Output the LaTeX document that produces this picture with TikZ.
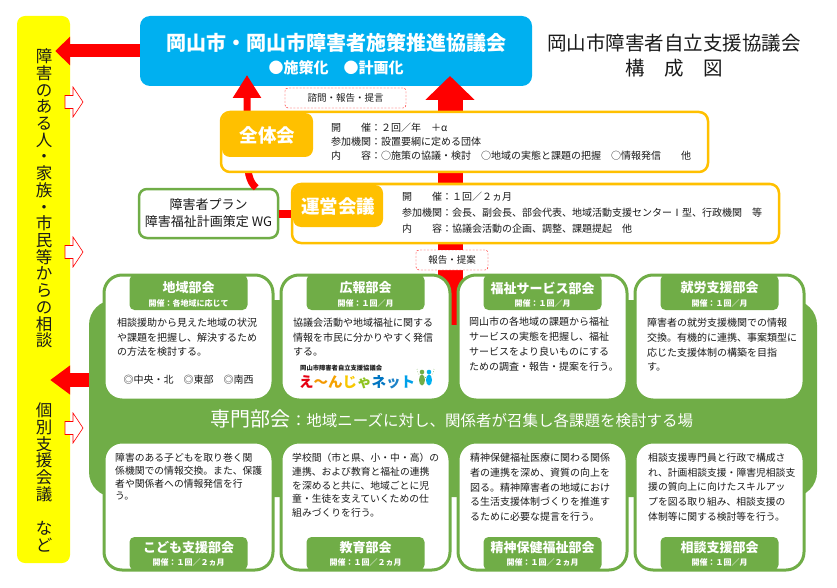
\documentclass[tikz,border=0pt]{standalone}
\usepackage{fontspec}
\setmainfont{Noto Sans CJK JP}
\usetikzlibrary{positioning, calc, arrows.meta}
\definecolor{kblue}{HTML}{00B0F0}
\definecolor{korange}{HTML}{FFC000}
\definecolor{kgreen}{HTML}{70AD47}
\definecolor{kyellow}{HTML}{FFFF00}
\definecolor{ktext}{HTML}{1A1A1A}
\newcommand{\jfs}[2]{\fontsize{#1}{#2}\selectfont}

\begin{document}
\begin{tikzpicture}[x=1pt, y=-1pt,
					bluebox/.style={fill=kblue, rounded corners=10pt, inner sep=0pt},
					obox/.style={draw=korange, line width=2.5pt, fill=white, rounded corners=9pt, inner sep=0pt},
					ohead/.style={fill=korange, rounded corners=8pt, text=white, font=\bfseries\jfs{18.5}{20}, inner sep=0pt},
					gbox/.style={draw=kgreen, line width=3pt, fill=white, rounded corners=18pt, inner sep=0pt},
					ghead/.style={fill=kgreen, rounded corners=5pt, minimum width=118pt, inner sep=0pt},
					htitle/.style={text=white, font=\bfseries\jfs{13}{15}, inner sep=0pt},
					hsub/.style={text=white, font=\bfseries\jfs{8}{10}, inner sep=0pt},
					body/.style={anchor=north west, inner sep=0pt, align=left, text=ktext, font=\jfs{10}{14.5}},
					memo/.style={draw=red, dash pattern=on 2pt off 1.5pt, fill=white, rounded corners=3pt, text=ktext, font=\jfs{9.5}{11}, minimum height=20pt, inner sep=0pt},
					vchar/.style={font=\jfs{16.5}{18}, text=ktext, inner sep=0pt, text height=12.6pt, text depth=0pt}
					]
					\useasboundingbox (0,0) rectangle (837,588);
					\node[fill=kyellow, rounded corners=8pt, minimum width=53pt, minimum height=547pt, inner sep=0pt] (soudan) at (43.5,289.5) {};
					\foreach \c [count=\i from 0] in {障,害,の,あ,る,人,・,家,族,・,市,民,等,か,ら,の,相,談}
						\node[vchar] (sa\i) at (44,56.5+16.7*\i) {\c};
					\foreach \c/\k in {個/0,別/1,支/2,援/3,会/4,議/5,な/7,ど/8}
						\node[vchar] (sb\k) at (44,410+16.85*\k) {\c};
					\node[bluebox, minimum width=392pt, minimum height=70pt] (kyogikai) at (336,51) {};
					\node[text=white, font=\bfseries\jfs{20}{22}, inner sep=0pt] (kyogikai-t) at (336,43) {岡山市・岡山市障害者施策推進協議会};
					\node[text=white, font=\bfseries\jfs{15}{17}, inner sep=0pt] (kyogikai-s) at (336,68) {●施策化　●計画化};
					\node[font=\jfs{19.5}{22}, text=ktext, inner sep=0pt] (title) at (674,43) {岡山市障害者自立支援協議会};
					\node[font=\jfs{19.5}{22}, text=ktext, inner sep=0pt] (title2) at (674,68) {構　成　図};
					\node[fill=kgreen, rounded corners=25pt, minimum width=728pt, minimum height=197pt, inner sep=0pt] (senmon) at (453,398.5) {};
					\node[draw=kgreen, line width=2.5pt, fill=white, rounded corners=8pt, minimum width=139pt, minimum height=49pt, align=center, font=\jfs{13}{17}, text=ktext] (wg) at (208.5,213.5) {障害者プラン\\障害福祉計画策定 WG};
					\coordinate (kyo-up1) at (247,75);
					\coordinate (kyo-up2) at (450,76);
					\draw[red, line width=13pt, -{Triangle[length=15pt, width=28pt]}] (kyogikai.west) -- ($(kyogikai.west -| soudan.east)+(-15,0)$);
					\draw[red, line width=14pt, -{Triangle[length=20pt, width=28pt]}] ($(senmon.west)+(0,-18.5)$) -- ($(senmon.west -| soudan.east)+(-20,-18.5)$);
					\draw[red, line width=25pt, -{Triangle[length=24pt, width=48pt]}] ($(senmon.north)+(-3,25)$) -- (kyo-up2);
					\draw[red, line width=7pt, -{Triangle[length=23pt, width=27pt]}] ($(wg.north east)+(-23,0)$) .. controls (249,182) and (247,172) .. (247,150) -- (kyo-up1);
					\node[obox, minimum width=487pt, minimum height=60pt] (zentai) at (464.5,142) {};
					\node[ohead, minimum width=91pt, minimum height=44pt] (zentai-h) at (267.5,135) {全体会};
					\node[body, font=\jfs{10}{14}] (zentai-t) at (331,123) {開　　催：２回／年　＋α\\参加機関：設置要綱に定める団体\\内　　容：○施策の協議・検討　○地域の実態と課題の把握　○情報発信　　他};
					\node[obox, minimum width=487pt, minimum height=59pt] (unei) at (535.5,213.5) {};
					\node[ohead, minimum width=90pt, minimum height=42pt] (unei-h) at (338,206) {運営会議};
					\node[body, font=\jfs{10}{15.8}] (unei-t) at (402,192) {開　　催：１回／２ヵ月\\参加機関：会長、副会長、部会代表、地域活動支援センターⅠ型、行政機関　等\\内　　容：協議会活動の企画、調整、課題提起　他};
					\draw[red, line width=8pt] (wg.east) -- (unei.west);
					\node[memo, minimum width=121pt] (shimon) at (345.5,98) {諮問・報告・提言};
					\node[memo, minimum width=72pt] (hokoku) at (452,260) {報告・提案};
					\foreach \cx/\nm/\ttl/\sub in {188.5/chiiki/地域部会/開催：各地域に応じて, 365.5/kouhou/広報部会/開催：１回／月, 542.5/fukushi/福祉サービス部会/開催：１回／月, 719.5/shurou/就労支援部会/開催：１回／月} {
						\node[gbox, minimum width=169pt, minimum height=125pt] (\nm) at (\cx,337.5) {};
						\node[ghead, minimum height=35pt] (\nm-h) at (\cx,292.5) {};
						\node[htitle] (\nm-t) at (\cx,288) {\ttl};
						\node[hsub] (\nm-s) at (\cx,303) {\sub};
					}
					\foreach \cx/\nm/\ttl/\sub in {188.5/kodomo/こども支援部会/開催：１回／２ヵ月, 365.5/kyouiku/教育部会/開催：１回／２ヵ月, 542.5/seishin/精神保健福祉部会/開催：１回／２ヵ月, 719.5/soudanb/相談支援部会/開催：１回／月} {
						\node[gbox, minimum width=169pt, minimum height=128pt] (\nm) at (\cx,506) {};
						\node[ghead, minimum height=33pt] (\nm-h) at (\cx,553.5) {};
						\node[htitle] (\nm-t) at (\cx,548) {\ttl};
						\node[hsub] (\nm-s) at (\cx,562) {\sub};
					}
					\node[body] (chiiki-b) at (117,318) {相談援助から見えた地域の状況\\や課題を把握し、解決するため\\の方法を検討する。};
					\node[text=ktext, font=\jfs{10}{12}, inner sep=0pt] (chiiki-area) at (188.5,380) {◎中央・北　◎東部　◎南西};
					\node[body] (kouhou-b) at (293,318) {協議会活動や地域福祉に関する\\情報を市民に分かりやすく発信\\する。};
					\node[font=\bfseries\jfs{6.3}{7}, text=ktext, anchor=west, inner sep=0pt] (enja-org) at (300,368) {岡山市障害者自立支援協議会};
					\node[font=\bfseries\jfs{14.5}{16}, anchor=west, inner sep=0pt] (enja) at (299,382) {\textcolor[HTML]{E60012}{え}\textcolor[HTML]{F39800}{～}\textcolor[HTML]{F5A200}{ん}\textcolor[HTML]{F8C800}{じ}\textcolor[HTML]{8FC31F}{ゃ}\textcolor[HTML]{0075C2}{ネ}\textcolor[HTML]{1D82C8}{ッ}\textcolor[HTML]{00A0E9}{ト}};
					\draw[kgreen, dotted, line width=0.6pt] (417,369) arc (180:0:8.5);
					\fill[kgreen] (422,372) circle (2.3) (422,380) ellipse (3 and 5.5);
					\fill[kblue] (429,372) circle (2.3) (429,380) ellipse (3 and 5.5);
					\node[body, font=\jfs{10}{15}] (fukushi-b) at (469,317) {岡山市の各地域の課題から福祉\\サービスの実態を把握し、福祉\\サービスをより良いものにする\\ための調査・報告・提案を行う。};
					\node[body, font=\jfs{10}{14.7}] (shurou-b) at (647,318) {障害者の就労支援機関での情報\\交換。有機的に連携、事案類型に\\応じた支援体制の構築を目指\\す。};
					\node[body, font=\jfs{9.8}{12.8}] (kodomo-b) at (115,453) {障害のある子どもを取り巻く関\\係機関での情報交換。また、保護\\者や関係者への情報発信を行\\う。};
					\node[body, font=\jfs{9.8}{13.8}] (kyouiku-b) at (292,453) {学校間（市と県、小・中・高）の\\連携、および教育と福祉の連携\\を深めると共に、地域ごとに児\\童・生徒を支えていくための仕\\組みづくりを行う。};
					\node[body, font=\jfs{10}{14.7}] (seishin-b) at (470,453) {精神保健福祉医療に関わる関係\\者の連携を深め、資質の向上を\\図る。精神障害者の地域におけ\\る生活支援体制づくりを推進す\\るために必要な提言を行う。};
					\node[body, font=\jfs{9.8}{14.7}] (soudanb-b) at (648,453) {相談支援専門員と行政で構成さ\\れ、計画相談支援・障害児相談支\\援の質向上に向けたスキルアッ\\プを図る取り組み、相談支援の\\体制等に関する検討等を行う。};
					\node[text=white, inner sep=0pt] (senmon-t) at (452,419) {{\jfs{20}{24}専門部会}{\jfs{15.5}{18}：地域ニーズに対し、関係者が召集し各課題を検討する場}};
					\foreach \yy [count=\i] in {102,252,428}
						\draw[red, fill=white, line width=0.6pt] (65,\yy-6.5) -- (73,\yy-6.5) -- (73,\yy-15) -- (83,\yy) -- (73,\yy+15) -- (73,\yy+6.5) -- (65,\yy+6.5) -- cycle;
				\end{tikzpicture}
\end{document}
